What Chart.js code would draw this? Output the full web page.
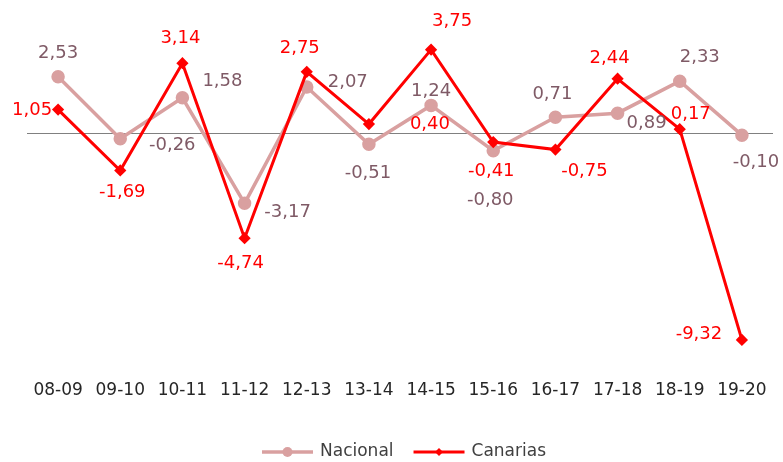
<!DOCTYPE html>
<html>
<head>
<meta charset="utf-8">
<script src="https://cdn.jsdelivr.net/npm/chart.js@4"></script>
<style>
  body { margin: 0; background: #fff; }
</style>
</head>
<body>
<canvas id="lineChart" width="783" height="462"></canvas>
<script>
const labels = ['08-09', '09-10', '10-11', '11-12', '12-13', '13-14', '14-15', '15-16', '16-17', '17-18', '18-19', '19-20'];
const nacional = [2.53, -0.26, 1.58, -3.17, 2.07, -0.51, 1.24, -0.80, 0.71, 0.89, 2.33, -0.10];
const canarias = [1.05, -1.69, 3.14, -4.74, 2.75, 0.40, 3.75, -0.41, -0.75, 2.44, 0.17, -9.32];

// label offsets from each point (dx, dy), as placed in the original
const nacionalLabelPos = [[0,-23],[52,7],[40,-17],[43,9],[41,-5],[-1,29],[0,-14],[-3,50],[-3,-23],[29,10],[20,-24],[14,27]];
const canariasLabelPos = [[-26,1],[2,22],[-2,-25],[-4,25],[-7,-24],[61,0],[21,-28],[-2,29],[29,22],[-8,-20],[11,-15],[-43,-6]];

const fontFamily = '"DejaVu Sans", sans-serif';

const zeroLine = {
    id: 'zeroLine',
    beforeDatasetsDraw(chart) {
        const ctx = chart.ctx, area = chart.chartArea;
        const y = Math.round(chart.scales.y.getPixelForValue(0)) + 0.5;
        ctx.save();
        ctx.strokeStyle = '#808080';
        ctx.lineWidth = 1;
        ctx.beginPath();
        ctx.moveTo(area.left, y);
        ctx.lineTo(area.right, y);
        ctx.stroke();
        ctx.restore();
    }
};

const valueLabels = {
    id: 'valueLabels',
    afterDatasetsDraw(chart) {
        const ctx = chart.ctx;
        ctx.save();
        ctx.font = '18px ' + fontFamily;
        ctx.textAlign = 'center';
        ctx.textBaseline = 'middle';
        chart.data.datasets.forEach((ds, di) => {
            const meta = chart.getDatasetMeta(di);
            ctx.fillStyle = ds.labelColor;
            meta.data.forEach((pt, i) => {
                const off = ds.labelPos[i];
                ctx.fillText(ds.data[i].toFixed(2).replace('.', ','), pt.x + off[0], pt.y + off[1]);
            });
        });
        ctx.restore();
    }
};

const bottomLegend = {
    id: 'bottomLegend',
    afterDraw(chart) {
        const ctx = chart.ctx;
        const y = 452;
        let x = 262;
        ctx.save();
        ctx.font = '17px ' + fontFamily;
        ctx.textBaseline = 'middle';
        chart.data.datasets.forEach(ds => {
            ctx.strokeStyle = ds.borderColor;
            ctx.lineWidth = ds.borderWidth;
            ctx.beginPath();
            ctx.moveTo(x, y);
            ctx.lineTo(x + 51, y);
            ctx.stroke();
            ctx.fillStyle = ds.pointBackgroundColor;
            ctx.beginPath();
            if (ds.pointStyle === 'rectRot') {
                const r = ds.pointRadius;
                ctx.moveTo(x + 25.5, y - r);
                ctx.lineTo(x + 25.5 + r, y);
                ctx.lineTo(x + 25.5, y + r);
                ctx.lineTo(x + 25.5 - r, y);
                ctx.closePath();
            } else {
                ctx.arc(x + 25.5, y, ds.pointRadius, 0, Math.PI * 2);
            }
            ctx.fill();
            ctx.fillStyle = '#404040';
            ctx.fillText(ds.label, x + 58, y);
            x += 58 + ctx.measureText(ds.label).width + 20;
        });
        ctx.restore();
    }
};

const config = {
    type: 'line',
    data: {
        labels: labels,
        datasets: [{
            label: 'Nacional',
            data: nacional,
            borderColor: '#D9A0A0',
            backgroundColor: '#D9A0A0',
            pointBackgroundColor: '#D9A0A0',
            pointBorderColor: '#D9A0A0',
            borderWidth: 3.5,
            pointStyle: 'circle',
            pointRadius: 5,
            fill: false,
            tension: 0,
            order: 1,
            labelColor: '#7F5A66',
            labelPos: nacionalLabelPos
        }, {
            label: 'Canarias',
            data: canarias,
            borderColor: '#FF0000',
            backgroundColor: '#FF0000',
            pointBackgroundColor: '#FF0000',
            pointBorderColor: '#FF0000',
            borderWidth: 3,
            pointStyle: 'rectRot',
            pointRadius: 4,
            fill: false,
            tension: 0,
            order: 0,
            labelColor: '#FF0000',
            labelPos: canariasLabelPos
        }]
    },
    options: {
        responsive: false,
        animation: false,
        layout: { padding: { top: 33, bottom: 60, left: 27, right: 10 } },
        plugins: {
            legend: { display: false },
            tooltip: { enabled: false }
        },
        scales: {
            x: {
                offset: true,
                grid: { display: false },
                border: { display: false },
                ticks: {
                    padding: 17,
                    color: '#262626',
                    maxRotation: 0,
                    autoSkip: false,
                    font: { family: fontFamily, size: 17 }
                },
                afterFit(scale) {
                    scale.height = 47;
                    scale.paddingLeft = 0;
                    scale.paddingRight = 0;
                }
            },
            y: {
                display: false,
                min: -10,
                max: 4.5
            }
        }
    },
    plugins: [zeroLine, valueLabels, bottomLegend]
};

new Chart(document.getElementById('lineChart'), config);
</script>
</body>
</html>
